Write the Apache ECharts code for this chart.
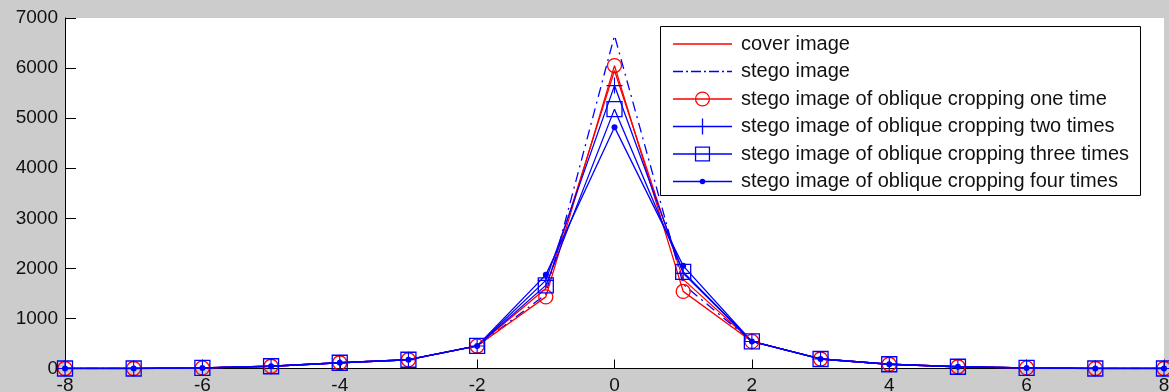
<!DOCTYPE html>
<html>
<head>
<meta charset="utf-8">
<script src="https://cdn.jsdelivr.net/npm/echarts@6/dist/echarts.min.js"></script>
<style>
  html, body { margin: 0; padding: 0; background: #cccccc; }
  #chart { width: 1169px; height: 392px; }
</style>
</head>
<body>
<div id="chart"></div>
<script>
const xs = [-8, -7, -6, -5, -4, -3, -2, -1, 0, 1, 2, 3, 4, 5, 6, 7, 8];
const coverImage = [0, 0, 12, 45, 115, 175, 450, 1600, 5950, 1780, 540, 190, 85, 35, 12, 0, 0];
const stegoImage = [0, 0, 12, 45, 115, 175, 450, 1480, 6650, 1680, 540, 190, 85, 35, 12, 0, 0];
const obliqueOne = [0, 0, 12, 45, 115, 175, 450, 1430, 6050, 1540, 540, 190, 85, 35, 12, 0, 0];
const obliqueTwo = [0, 0, 12, 45, 115, 175, 450, 1760, 5650, 1900, 540, 190, 85, 35, 12, 0, 0];
const obliqueThree = [0, 0, 12, 45, 115, 175, 450, 1660, 5180, 1930, 540, 190, 85, 35, 12, 0, 0];
const obliqueFour = [0, 0, 12, 45, 115, 175, 450, 1870, 4820, 2050, 540, 190, 85, 35, 12, 0, 0];
const seriesNames = [
  'cover image',
  'stego image',
  'stego image of oblique cropping one time',
  'stego image of oblique cropping two times',
  'stego image of oblique cropping three times',
  'stego image of oblique cropping four times'
];

const pairs = (ys) => xs.map((x, i) => [x, ys[i]]);
const RED = '#ff0000';
const BLUE = '#0000ff';
const PLUS = 'path://M-0.07,-1L0.07,-1L0.07,-0.07L1,-0.07L1,0.07L0.07,0.07L0.07,1L-0.07,1L-0.07,0.07L-1,0.07L-1,-0.07L-0.07,-0.07Z';

// legend sample icons, drawn in a 59x20 box (line through the middle + marker)
const W = 59, H = 20, CX = 29.5, CY = 10, T = 0.65;
const box = 'M0,0M' + W + ',' + H;
const seg = (a, b) => 'M' + a + ',' + (CY - T) + 'L' + b + ',' + (CY - T) + 'L' + b + ',' + (CY + T) + 'L' + a + ',' + (CY + T) + 'Z';
const disc = (r, cw) => {
  const s = cw ? 1 : 0;
  return 'M' + (CX + r) + ',' + CY + 'A' + r + ',' + r + ' 0 1 ' + s + ' ' + (CX - r) + ',' + CY +
    'A' + r + ',' + r + ' 0 1 ' + s + ' ' + (CX + r) + ',' + CY + 'Z';
};
const sq = (h, cw) => {
  const a = CX - h, b = CX + h, c = CY - h, d = CY + h;
  return cw ? 'M' + a + ',' + c + 'L' + b + ',' + c + 'L' + b + ',' + d + 'L' + a + ',' + d + 'Z'
            : 'M' + a + ',' + c + 'L' + a + ',' + d + 'L' + b + ',' + d + 'L' + b + ',' + c + 'Z';
};
const iconLine = 'path://' + box + seg(0, W);
const iconDash = 'path://' + box + seg(0, 10) + seg(13, 15) + seg(18, 28) + seg(31, 33) + seg(36, 46) + seg(49, 51) + seg(54, W);
const iconCircle = 'path://' + box + seg(0, CX - 7.6) + seg(CX + 7.6, W) + seg(CX - 6.3, CX + 6.3) + disc(7.6, true) + disc(6.3, false);
const iconPlus = 'path://' + box + seg(0, W) + 'M' + (CX - T) + ',2L' + (CX + T) + ',2L' + (CX + T) + ',18L' + (CX - T) + ',18Z';
const iconSquare = 'path://' + box + seg(0, CX - 7.6) + seg(CX + 7.6, W) + seg(CX - 6.3, CX + 6.3) + sq(7.6, true) + sq(6.3, false);
const iconDot = 'path://' + box + seg(0, W) + disc(2.8, true);
const legendIcons = [iconLine, iconDash, iconCircle, iconPlus, iconSquare, iconDot];
const legendColors = [RED, BLUE, RED, BLUE, BLUE, BLUE];

const chart = echarts.init(document.getElementById('chart'));

const option = {
  backgroundColor: '#cccccc',
  animation: false,
  textStyle: { fontFamily: 'Liberation Sans, Arial, sans-serif' },
  grid: {
    left: 65, top: 18, right: 5, bottom: 23.5,
    outerBoundsMode: 'none',
    show: true, backgroundColor: '#ffffff', borderWidth: 0
  },
  graphic: [{
    type: 'rect',
    z: 90,
    shape: { x: 660.5, y: 26.5, width: 480, height: 169 },
    style: { fill: '#ffffff', stroke: '#000000', lineWidth: 1 }
  }],
  legend: {
    orient: 'vertical',
    left: 673, top: 34,
    padding: 0,
    z: 100,
    itemWidth: W, itemHeight: H, itemGap: 7.5,
    textStyle: { fontSize: 20, color: '#111111', padding: [0, 0, 0, 4], fontFamily: 'Liberation Sans, Arial, sans-serif' },
    data: seriesNames.map((name, i) => ({
      name: name,
      icon: legendIcons[i],
      itemStyle: { color: legendColors[i], borderWidth: 0 }
    }))
  },
  xAxis: {
    type: 'value',
    min: -8, max: 8, interval: 2,
    splitLine: { show: false },
    axisLine: { onZero: false, lineStyle: { color: '#000000', width: 1 } },
    axisTick: { inside: true, length: 9, lineStyle: { color: '#000000' } },
    axisLabel: { fontSize: 19, color: '#111111', margin: 8 }
  },
  yAxis: {
    type: 'value',
    min: 0, max: 7000, interval: 1000,
    splitLine: { show: false },
    axisLine: { show: true, onZero: false, lineStyle: { color: '#000000', width: 1 } },
    axisTick: { show: true, inside: true, length: 11, lineStyle: { color: '#000000' } },
    axisLabel: { fontSize: 19, color: '#111111', margin: 7, formatter: (v) => String(v) }
  },
  series: [
    {
      name: seriesNames[0], type: 'line', data: pairs(coverImage),
      showSymbol: false, symbol: 'none',
      lineStyle: { color: RED, width: 1.3 }, itemStyle: { color: RED }
    },
    {
      name: seriesNames[1], type: 'line', data: pairs(stegoImage),
      showSymbol: false, symbol: 'none',
      lineStyle: { color: BLUE, width: 1.3, type: [10, 5, 2, 5] }, itemStyle: { color: BLUE }
    },
    {
      name: seriesNames[2], type: 'line', data: pairs(obliqueOne),
      symbol: 'circle', symbolSize: 14,
      lineStyle: { color: RED, width: 1.3 },
      itemStyle: { color: 'rgba(0,0,0,0)', borderColor: RED, borderWidth: 1.3 }
    },
    {
      name: seriesNames[3], type: 'line', data: pairs(obliqueTwo),
      symbol: PLUS, symbolSize: 16,
      lineStyle: { color: BLUE, width: 1.3 },
      itemStyle: { color: BLUE, borderWidth: 0 }
    },
    {
      name: seriesNames[4], type: 'line', data: pairs(obliqueThree),
      symbol: 'rect', symbolSize: 15,
      lineStyle: { color: BLUE, width: 1.3 },
      itemStyle: { color: 'rgba(0,0,0,0)', borderColor: BLUE, borderWidth: 1.3 }
    },
    {
      name: seriesNames[5], type: 'line', data: pairs(obliqueFour),
      symbol: 'circle', symbolSize: 6,
      lineStyle: { color: BLUE, width: 1.3 },
      itemStyle: { color: BLUE, borderWidth: 0 }
    }
  ]
};

chart.setOption(option);
</script>
</body>
</html>
